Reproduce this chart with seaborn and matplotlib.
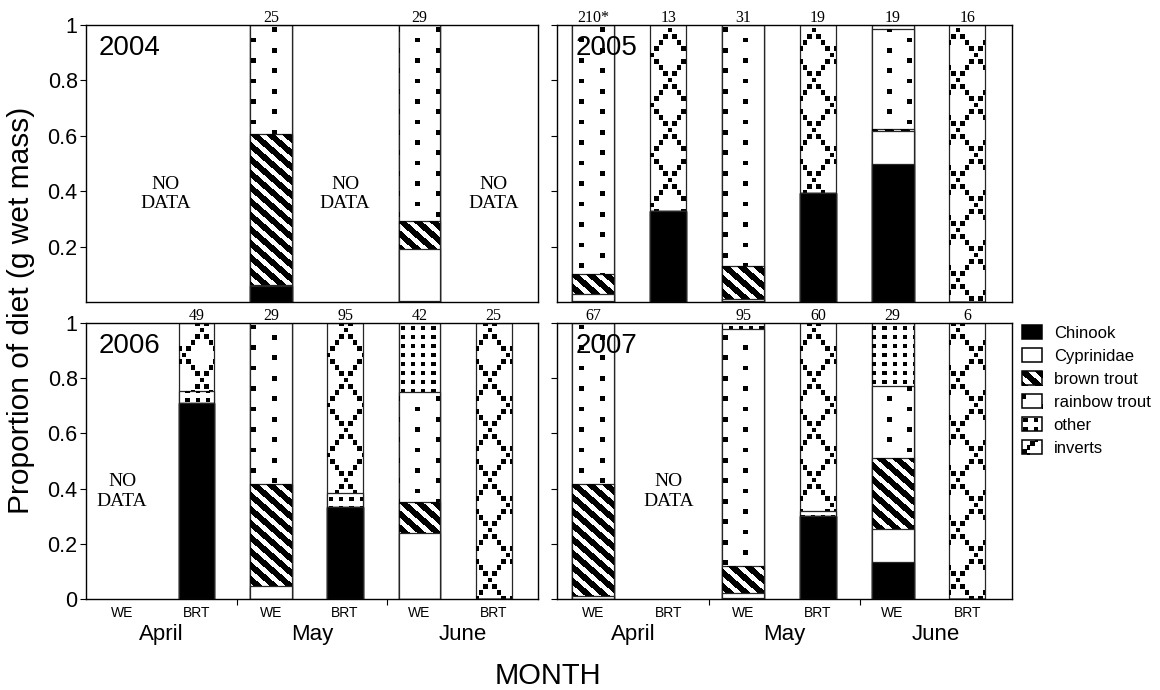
import itertools

import numpy as np
import pandas as pd
import matplotlib
matplotlib.use("Agg")
import matplotlib.pyplot as plt
from matplotlib.patches import Patch
from matplotlib.path import Path
import seaborn as sns

# ---------------------------------------------------------------- data
years = [2004, 2005, 2006, 2007]
months = ["April", "May", "June"]
predators = ["WE", "BRT"]
prey = ["Chinook", "Cyprinidae", "brown trout", "rainbow trout", "other", "inverts"]

# proportion of diet (g wet mass) by prey type, one list per sample:
# April WE, April BRT, May WE, May BRT, June WE, June BRT  (None = no data)
diet_2004 = [
    None,
    None,
    [0.057, 0.003, 0.546, 0.394, 0.000, 0.000],
    None,
    [0.005, 0.188, 0.098, 0.709, 0.000, 0.000],
    None,
]
diet_2005 = [
    [0.005, 0.025, 0.070, 0.900, 0.000, 0.000],
    [0.330, 0.000, 0.000, 0.000, 0.000, 0.670],
    [0.005, 0.005, 0.120, 0.870, 0.000, 0.000],
    [0.395, 0.000, 0.000, 0.000, 0.000, 0.605],
    [0.500, 0.118, 0.006, 0.360, 0.016, 0.000],
    [0.000, 0.000, 0.000, 0.000, 0.000, 1.000],
]
diet_2006 = [
    None,
    [0.711, 0.000, 0.000, 0.000, 0.043, 0.246],
    [0.000, 0.048, 0.370, 0.582, 0.000, 0.000],
    [0.333, 0.000, 0.000, 0.000, 0.050, 0.617],
    [0.000, 0.239, 0.112, 0.400, 0.249, 0.000],
    [0.000, 0.000, 0.000, 0.000, 0.000, 1.000],
]
diet_2007 = [
    [0.000, 0.012, 0.405, 0.583, 0.000, 0.000],
    None,
    [0.005, 0.017, 0.096, 0.859, 0.023, 0.000],
    [0.301, 0.000, 0.000, 0.000, 0.017, 0.682],
    [0.134, 0.118, 0.258, 0.261, 0.229, 0.000],
    [0.000, 0.000, 0.000, 0.000, 0.000, 1.000],
]

# sample sizes printed above the bars
n_2004 = [None, None, "25", None, "29", None]
n_2005 = ["210*", "13", "31", "19", "19", "16"]
n_2006 = [None, "49", "29", "95", "42", "25"]
n_2007 = ["67", None, "95", "60", "29", "6"]

diets = [diet_2004, diet_2005, diet_2006, diet_2007]
sample_sizes = [n_2004, n_2005, n_2006, n_2007]

slots = [f"{m} {p}" for m, p in itertools.product(months, predators)]

records = []
for year, diet in zip(years, diets):
    for slot, (month, pred), vals in zip(slots, itertools.product(months, predators), diet):
        if vals is None:
            continue
        for name, v in zip(prey, vals):
            records.append(dict(year=year, slot=slot, predator=pred, prey=name, proportion=v))
df = pd.DataFrame(records)
df["top"] = df.groupby(["year", "slot"])["proportion"].cumsum().clip(upper=1.0)

# ---------------------------------------------------------------- style
sns.set_theme(style="ticks")
plt.rcParams["font.family"] = ["Liberation Sans", "DejaVu Sans"]
plt.rcParams.update({
    "axes.edgecolor": "black", "axes.linewidth": 1.0,
    "xtick.color": "black", "ytick.color": "black",
    "text.color": "black", "axes.labelcolor": "black",
    "axes.facecolor": "white", "figure.facecolor": "white",
})
SERIF = ["Liberation Serif", "DejaVu Serif"]

W, H = 1160, 690
fig = plt.figure(figsize=(W / 100, H / 100), dpi=100)


def box(left, top, right, bottom):
    return [left / W, 1 - bottom / H, (right - left) / W, (bottom - top) / H]


cols = [(86, 538), (557, 1012)]
rows = [(25, 302), (323, 599)]
axes = [fig.add_axes(box(cols[c][0], rows[r][0], cols[c][1], rows[r][1]))
        for r in range(2) for c in range(2)]

XLIM = (-0.487, 5.596)
BAR_W = {"WE": 0.56, "BRT": 0.48}
FILL = ["black"] + ["white"] * 5
EDGE = "#262626"


# ------------------------------------------------------- fill textures
Yg, Xg = np.mgrid[0:H, 0:W] + 0.5


def lattice(px, py, stagger, ox, oy, half):
    j = np.round((Yg - oy) / py)
    cy = oy + j * py
    shift = np.mod(j, 2) * stagger
    i = np.round((Xg - ox - shift) / px)
    cx = ox + shift + i * px
    return (np.abs(Xg - cx) < half) & (np.abs(Yg - cy) < half)


def stripes(px, py, frac, ox=0.0):
    return np.mod((Xg - ox) / px - Yg / py, 1.0) < frac


def diamonds(hx, hy, ox, oy, half):
    u = (Xg - ox) / hx
    v = (Yg - oy) / hy
    m = np.zeros(Xg.shape, bool)
    ud = np.round(u * 4) / 4
    for sgn in (1, -1):
        k = np.round((v - sgn * u) / 2.0)
        vd = sgn * ud + 2 * k
        m |= (np.abs(Xg - (ox + hx * ud)) < half) & (np.abs(Yg - (oy + hy * vd)) < half)
    return m


def rgba(mask):
    img = np.zeros(mask.shape + (4,))
    img[mask, 3] = 1.0
    return img


TEXTURE = {
    2: rgba(stripes(16.0, 14.0, 0.56)),                      # brown trout
    3: rgba(lattice(41.0, 10.25, 20.5, 253.6, 40.0, 2.4)),   # rainbow trout
    4: rgba(lattice(10.25, 9.0, 0.0, 3.0, 4.0, 2.2)),        # other
    5: rgba(diamonds(18.0, 25.0, 670.0, 30.0, 2.5)),          # inverts
}


def zorder(k):
    return 2 + 2 * (5 - k)


# ---------------------------------------------------------------- panels
for idx, (ax, year, diet, ns) in enumerate(zip(axes, years, diets, sample_sizes)):
    sub = df[df.year == year]
    layer_patches = {}
    for k in reversed(range(len(prey))):
        layer = sub[sub.prey == prey[k]]
        for pred in predators:
            d = layer[layer.predator == pred]
            if d.empty:
                continue
            before = len(ax.patches)
            sns.barplot(data=d, x="slot", y="top", order=slots, width=BAR_W[pred],
                        color=FILL[k], edgecolor=EDGE, linewidth=0.9,
                        saturation=1, errorbar=None, ax=ax)
            for p in ax.patches[before:]:
                p.set_zorder(zorder(k))
                layer_patches.setdefault(k, []).append(p)

    ax.set_xlim(*XLIM)
    ax.set_ylim(0, 1)

    # patterned fills, aligned to the figure pixel grid and clipped to each layer
    bb = ax.get_window_extent()
    c0, c1 = int(round(bb.x0)), int(round(bb.x1))
    r0, r1 = int(round(H - bb.y1)), int(round(H - bb.y0))
    inv = ax.transData.inverted()
    (ex0, ey0), (ex1, ey1) = inv.transform([(c0, H - r1), (c1, H - r0)])
    for k, tex in TEXTURE.items():
        if k not in layer_patches:
            continue
        paths = [p.get_path().transformed(p.get_patch_transform()) for p in layer_patches[k]]
        clip = Path.make_compound_path(*paths)
        im = ax.imshow(tex[r0:r1, c0:c1], extent=(ex0, ex1, ey0, ey1), origin="upper",
                       interpolation="nearest", aspect="auto", zorder=zorder(k) + 1)
        im.set_clip_path(clip, ax.transData)
    ax.set_xlim(*XLIM)
    ax.set_ylim(0, 1)

    for sp in ax.spines.values():
        sp.set_zorder(30)
        sp.set_linewidth(1.0)
        sp.set_color("black")

    ax.set_xlabel("")
    ax.set_ylabel("")
    top_row = idx < 2
    left_col = idx % 2 == 0

    # y axis
    yt = [0.2, 0.4, 0.6, 0.8, 1.0] if top_row else [0, 0.2, 0.4, 0.6, 0.8, 1.0]
    ax.set_yticks(yt)
    ax.set_yticklabels([f"{v:g}" for v in yt] if left_col else [])
    ax.tick_params(axis="y", direction="out", length=4, width=0.8, labelsize=15.5, pad=2)

    # x axis
    if top_row:
        ax.set_xticks([])
        ax.tick_params(axis="x", which="both", bottom=False, labelbottom=False)
    else:
        ax.set_xticks(range(len(slots)))
        ax.set_xticklabels(predators * len(months))
        ax.tick_params(axis="x", which="major", length=0, labelsize=10, pad=5)
        span = XLIM[1] - XLIM[0]
        ax.set_xticks([XLIM[0] + span / 3, XLIM[0] + 2 * span / 3], minor=True)
        ax.tick_params(axis="x", which="minor", length=4, width=0.8, direction="out")
        for frac, month in zip([1 / 6, 1 / 2, 5 / 6], months):
            ax.text(frac, -0.13, month, transform=ax.transAxes, ha="center",
                    va="center", fontsize=16)

    # year tag
    ax.text(0.027 if left_col else 0.04, 0.965, str(year), transform=ax.transAxes,
            ha="left", va="top", fontsize=20, zorder=40)

    # sample sizes
    for i, n in enumerate(ns):
        if n is not None:
            ax.text(i, 1.011, n, ha="center", va="baseline", fontsize=11.5,
                    family=SERIF, clip_on=False, zorder=40)

    # missing samples
    missing = [i for i, v in enumerate(diet) if v is None]
    runs = []
    for i in missing:
        if runs and runs[-1][-1] == i - 1:
            runs[-1].append(i)
        else:
            runs.append([i])
    for run in runs:
        ax.text(np.mean(run) + 0.08 * (len(run) > 1), 0.39, "NO\nDATA", ha="center",
                va="center", fontsize=14, family=SERIF, linespacing=1.2, zorder=40)

# ---------------------------------------------------------------- labels
fig.text(21 / W, 1 - 310 / H, "Proportion of diet (g wet mass)", rotation=90,
         ha="center", va="center", fontsize=21.5)
fig.text(548 / W, 1 - 676 / H, "MONTH", ha="center", va="center", fontsize=21)

# ---------------------------------------------------------------- legend
handles = [Patch(facecolor=FILL[k], edgecolor="black", linewidth=1.1, label=prey[k])
           for k in range(len(prey))]
leg = fig.legend(handles=handles, loc="upper left", bbox_to_anchor=(1022 / W, 1 - 325 / H),
                 frameon=False, fontsize=12, handlelength=1.2, handleheight=0.9,
                 handletextpad=0.7, labelspacing=0.44, borderpad=0, borderaxespad=0)

# swatch textures are phased to each legend key so that a few marks show inside it
fig.canvas.draw()
for k, patch in enumerate(leg.get_patches()):
    if k not in TEXTURE:
        continue
    sb = patch.get_window_extent()
    sx0, sx1 = sb.x0, sb.x1
    sy0, sy1 = H - sb.y1, H - sb.y0          # top / bottom in image rows
    if k == 2:
        tex = rgba(stripes(16.0, 14.0, 0.56, ox=sx0 + 4))
    elif k == 3:
        tex = rgba(lattice(41.0, 10.25, 20.5, sx0 + 1.5, sy0 + 2.5, 2.4))
    elif k == 4:
        tex = rgba(lattice(10.25, 9.0, 0.0, sx0 + 3.5, sy0 + 3.0, 2.2))
    else:
        tex = rgba(diamonds(16.0, 16.0, sx0 + 2.5, sy1 - 2.5, 2.2))
    fi = fig.figimage(tex, xo=0, yo=0, origin="upper", zorder=10)
    fi.set_clip_path(patch)

fig.savefig("out.png", dpi=100)
